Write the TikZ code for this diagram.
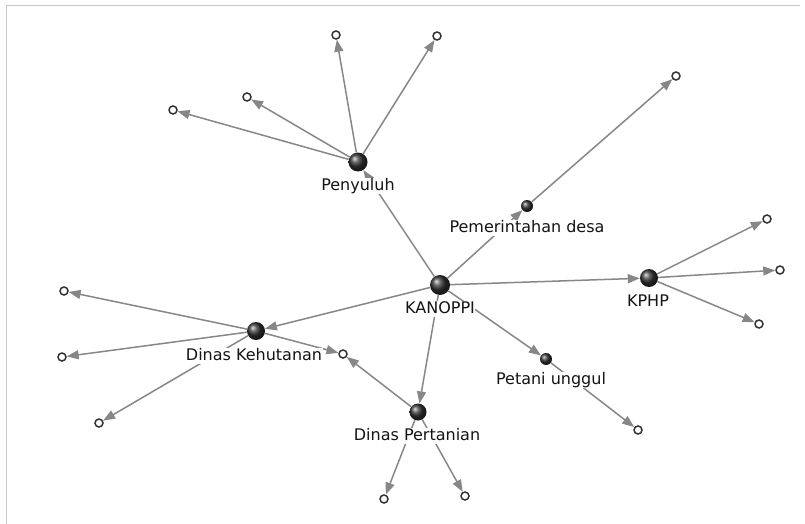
\documentclass[tikz,border=0pt]{standalone}
\usepackage{fontspec}
\setmainfont{DejaVu Sans}
\usetikzlibrary{arrows.meta}
\begin{document}
\begin{tikzpicture}[
    x=1pt,y=-1pt,
    every node/.style={font=\fontsize{16}{18}\selectfont},
    hub/.style={circle, inner sep=0pt, minimum size=20pt, shading=ball, ball color=black!80},
    minor/.style={hub, minimum size=12pt},
    leaf/.style={circle, draw=black!80, line width=1.5pt, fill=white, inner sep=0pt, minimum size=8pt},
    link/.style={draw=black!47, line width=1.5pt, -{Triangle[length=12pt,width=9pt]}},
    tag/.style={fill=white, inner sep=0.5pt, text height=11.5pt, text depth=3.5pt, text=black!92, anchor=base}
]
    \useasboundingbox (0,0) rectangle (805,524);
    \draw[black!22, line width=1pt] (800,5.5) -- (6.5,5.5) -- (6.5,524);

    \node[hub] (kanoppi) at (440,285) {};
    \node[hub, minimum size=19pt] (penyuluh) at (358,162) {};
    \node[minor] (pemdes) at (527,206) {};
    \node[hub, minimum size=18pt] (kphp) at (649,278) {};
    \node[hub, minimum size=18pt] (dishut) at (256,331) {};
    \node[hub, minimum size=17pt] (distan) at (418,412) {};
    \node[minor] (petani) at (546,359) {};

    \foreach \n/\x/\y in {p1/173/110,p2/247/97,p3/336/35,p4/437/36,d1/676/76,h1/767/219,h2/780/270,h3/759/324,
                          k1/64/291,k2/62/357,k3/99/423,s1/343/354,t1/384/499,t2/465/496,u1/638/430} {
        \node[leaf] (\n) at (\x,\y) {};
    }

    \foreach \a/\b in {kanoppi/penyuluh,kanoppi/pemdes,kanoppi/kphp,kanoppi/dishut,kanoppi/distan,kanoppi/petani,
                       penyuluh/p1,penyuluh/p2,penyuluh/p3,penyuluh/p4,pemdes/d1,kphp/h1,kphp/h2,kphp/h3,
                       dishut/k1,dishut/k2,dishut/k3,dishut/s1,distan/s1,distan/t1,distan/t2,petani/u1} {
        \draw[link] (\a) -- (\b);
    }

    \node[tag] (lkanoppi) at (440,313) {KANOPPI};
    \node[tag] (lpenyuluh) at (358,190) {Penyuluh};
    \node[tag] (lpemdes) at (527,232) {Pemerintahan desa};
    \node[tag] (lkphp) at (648,306) {KPHP};
    \node[tag] (ldishut) at (254,360) {Dinas Kehutanan};
    \node[tag] (ldistan) at (417,440) {Dinas Pertanian};
    \node[tag] (lpetani) at (551,384) {Petani unggul};
\end{tikzpicture}
\end{document}
